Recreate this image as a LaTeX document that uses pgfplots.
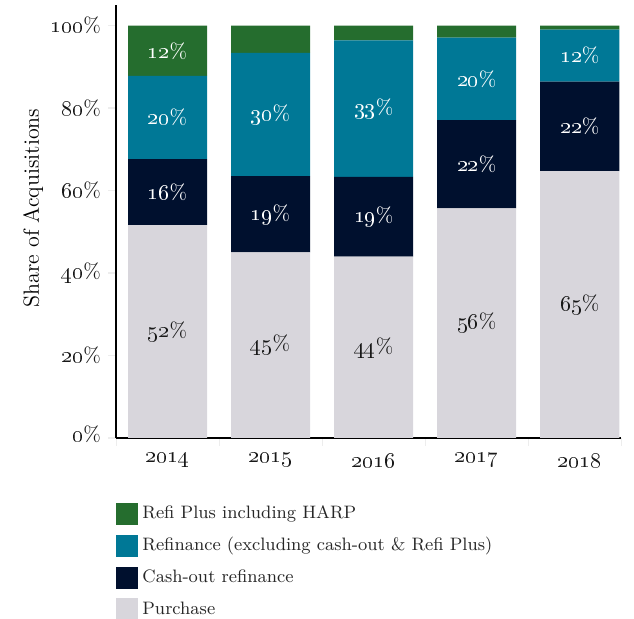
\documentclass[border=0pt]{standalone}
\usepackage{pgfplots}
\pgfplotsset{compat=1.18}
\definecolor{harp}{RGB}{37,109,46}
\definecolor{refi}{RGB}{0,120,150}
\definecolor{cashout}{RGB}{0,16,46}
\definecolor{purchase}{RGB}{216,214,220}
\newcommand{\os}[1]{\oldstylenums{#1}}
\pgfplotsset{
  seglabel/.style={
    nodes near coords={\pgfplotspointmeta},
    point meta=explicit symbolic,
    every node near coord/.append style={anchor=center,
      font=\fontsize{10.5}{12}\selectfont, text=#1}
  }
}
\begin{document}
\begin{tikzpicture}
\path[use as bounding box] (-58pt,-90.5pt) rectangle (259pt,219pt);
\begin{axis}[
  scale only axis, width=252.5pt, height=216.5pt,
  at={(0,0)}, anchor=south west,
  ybar stacked, bar width=0.767,
  xmin=-0.5, xmax=4.4, ymin=0, ymax=105,
  axis lines=left, axis line style={-, black, line width=0.6pt},
  xtick={0,...,4},
  xticklabels={\os{2014},\os{2015},\os{2016},\os{2017},\os{2018}},
  major x tick style={draw=none},
  minor xtick={-0.5,0.5,1.5,2.5,3.5,4.4},
  minor tick length=4pt,
  minor x tick style={draw=black!7},
  ytick={0,20,...,100},
  yticklabels={\raisebox{4.5pt}{\os{0}\%},\os{20}\%,\os{40}\%,\os{60}\%,\os{80}\%,\os{100}\%},
  major y tick style={draw=black!7, line width=0.8pt},
  tick align=outside, major tick length=4pt,
  tick label style={font=\fontsize{10.5}{12}\selectfont, text=black!90},
  every axis y label/.style={at={(axis description cs:-0.164,0.531)},
    rotate=90, anchor=center, font=\fontsize{11}{13}\selectfont},
  ylabel={Share of Acquisitions},
  legend style={at={(axis description cs:0,-0.146)}, anchor=north west,
    draw=none, fill=none, inner sep=0pt, row sep=4pt,
    font=\fontsize{9}{11}\selectfont, text=black!85, cells={anchor=west}},
  legend image code/.code={\fill[#1] (0pt,-5.5pt) rectangle (11pt,5.5pt);},
  reverse legend,
]
\addplot[fill=purchase, draw=none, seglabel=black!90] coordinates {
  (0,51.6) [\os{52}\%] (1,45.0) [\os{45}\%] (2,44.0) [\os{44}\%]
  (3,55.7) [\os{56}\%] (4,64.7) [\os{65}\%]};
\addplot[fill=cashout, draw=none, seglabel=white] coordinates {
  (0,16.0) [\os{16}\%] (1,18.5) [\os{19}\%] (2,19.3) [\os{19}\%]
  (3,21.4) [\os{22}\%] (4,21.7) [\os{22}\%]};
\addplot[fill=refi, draw=none, seglabel=white] coordinates {
  (0,20.2) [\os{20}\%] (1,29.9) [\os{30}\%] (2,33.1) [\os{33}\%]
  (3,20.0) [\os{20}\%] (4,12.6) [\os{12}\%]};
\addplot[fill=harp, draw=none, seglabel=white] coordinates {
  (0,12.2) [\os{12}\%] (1,6.6) [] (2,3.6) []
  (3,2.9) [] (4,1.0) []};
\legend{Purchase, Cash-out refinance, Refinance (excluding cash-out \& Refi Plus), Refi Plus including HARP}
\end{axis}
\end{tikzpicture}
\end{document}
